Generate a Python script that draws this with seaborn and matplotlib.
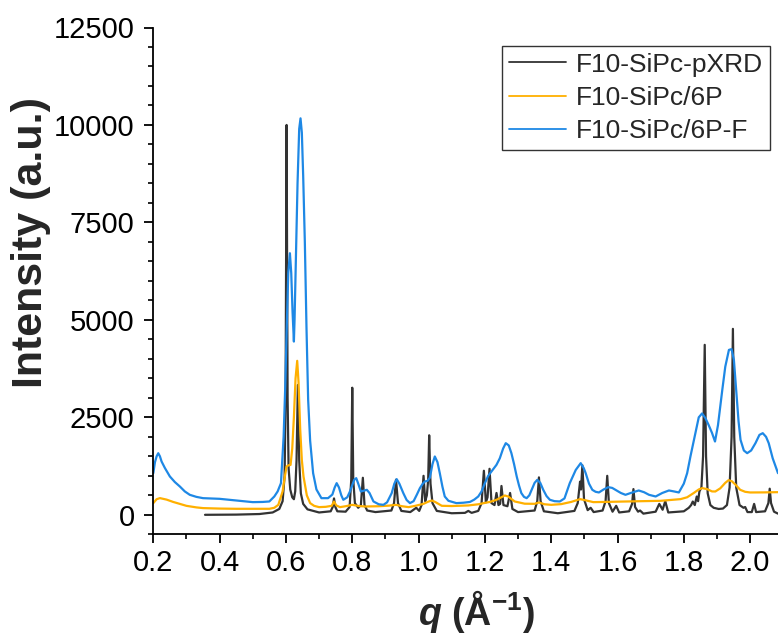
import numpy as np
import pandas as pd
import seaborn as sns
import matplotlib
matplotlib.use("Agg")
import matplotlib.pyplot as plt
from matplotlib.ticker import MultipleLocator, FormatStrFormatter

# ---------------- data ----------------
series_names = ["F10-SiPc-pXRD", "F10-SiPc/6P", "F10-SiPc/6P-F"]
series_colors = ["#333333", "#FFB000", "#1E88E5"]

pxrd_q = [0.356, 0.45, 0.52, 0.56, 0.58, 0.590, 0.596, 0.599, 0.602, 0.605, 0.608, 0.613, 0.619,
          0.624, 0.628, 0.632, 0.636, 0.640, 0.645, 0.652, 0.665, 0.70, 0.735, 0.741, 0.745, 0.749,
          0.755, 0.78, 0.792, 0.797, 0.800, 0.803, 0.808, 0.818, 0.826, 0.832, 0.837, 0.845, 0.87,
          0.918, 0.926, 0.932, 0.938, 0.948, 0.975, 0.993, 1.002, 1.009, 1.015, 1.020, 1.025, 1.029,
          1.032, 1.036, 1.042, 1.055, 1.10, 1.14, 1.150, 1.160, 1.180, 1.190, 1.197, 1.203, 1.208,
          1.214, 1.220, 1.229, 1.235, 1.241, 1.246, 1.250, 1.256, 1.268, 1.276, 1.283, 1.30, 1.35,
          1.358, 1.363, 1.368, 1.378, 1.42, 1.47, 1.480, 1.487, 1.490, 1.494, 1.499, 1.510, 1.519,
          1.528, 1.555, 1.564, 1.569, 1.574, 1.585, 1.596, 1.605, 1.635, 1.644, 1.648, 1.653, 1.662,
          1.668, 1.678, 1.715, 1.726, 1.736, 1.744, 1.753, 1.80, 1.815, 1.822, 1.827, 1.833, 1.839,
          1.843, 1.847, 1.853, 1.858, 1.863, 1.867, 1.872, 1.88, 1.89, 1.905, 1.918, 1.930, 1.938,
          1.944, 1.948, 1.952, 1.958, 1.968, 1.980, 1.985, 1.992, 2.005, 2.012, 2.018, 2.045, 2.055,
          2.059, 2.063, 2.072, 2.084]
pxrd_i = [0, 5, 20, 60, 150, 350, 1000, 3000, 10000, 3000, 1200, 650, 450,
          400, 600, 1400, 3330, 1400, 550, 280, 140, 60, 90, 200, 420, 200,
          90, 80, 200, 900, 3260, 900, 300, 180, 250, 950, 250, 110, 70,
          110, 300, 900, 300, 100, 70, 180, 100, 250, 1000, 350, 500, 900,
          2040, 800, 300, 100, 40, 50, 100, 50, 100, 300, 1130, 320, 450,
          1180, 300, 250, 560, 250, 280, 740, 250, 220, 560, 150, 70, 110,
          350, 960, 350, 90, 40, 100, 300, 850, 650, 1270, 400, 120, 180,
          70, 110, 350, 1000, 300, 80, 230, 60, 90, 280, 660, 200, 80,
          110, 30, 80, 280, 130, 350, 60, 90, 180, 250, 340, 250, 470,
          350, 600, 700, 1500, 4360, 1500, 550, 250, 180, 150, 160, 250, 700,
          2000, 4770, 2000, 700, 250, 180, 200, 70, 70, 280, 70, 90, 300,
          670, 300, 80, 30]

film_q = [0.20, 0.21, 0.22, 0.24, 0.26, 0.28, 0.30, 0.33, 0.35, 0.40, 0.45, 0.55, 0.565, 0.577,
          0.590, 0.597, 0.602, 0.608, 0.614, 0.619, 0.624, 0.629, 0.634, 0.638, 0.643, 0.648,
          0.653, 0.663, 0.673, 0.685, 0.70, 0.72, 0.738, 0.745, 0.752, 0.763, 0.78, 0.80, 0.82,
          0.84, 0.88, 0.91, 0.932, 0.95, 0.97, 0.99, 1.015, 1.03, 1.04, 1.05, 1.07, 1.10, 1.15,
          1.18, 1.197, 1.215, 1.235, 1.25, 1.26, 1.27, 1.29, 1.32, 1.35, 1.363, 1.38, 1.40, 1.43,
          1.46, 1.487, 1.50, 1.527, 1.56, 1.628, 1.73, 1.79, 1.81, 1.83, 1.845, 1.855, 1.87,
          1.885, 1.895, 1.91, 1.925, 1.935, 1.945, 1.955, 1.97, 1.985, 2.00, 2.04, 2.084]
film_i = [300, 400, 428, 390, 330, 280, 230, 190, 172, 160, 154, 154, 180, 256,
          600, 1000, 1240, 1270, 1280, 1700, 2500, 3500, 3950, 3400, 2200, 1400,
          983, 500, 300, 230, 197, 205, 230, 340, 240, 197, 220, 256, 225,
          213, 220, 235, 256, 220, 197, 230, 282, 340, 367, 330, 231, 225, 240,
          270, 300, 330, 385, 450, 496, 470, 342, 285, 282, 316, 270, 256, 274,
          330, 402, 380, 325, 330, 342, 359, 402, 450, 560, 650, 684, 660,
          600, 598, 680, 820, 889, 860, 780, 641, 590, 573, 575, 581]

filmf_q = [0.200, 0.205, 0.210, 0.215, 0.220, 0.225, 0.235, 0.25, 0.265, 0.28, 0.295, 0.31, 0.33,
           0.35, 0.40, 0.45, 0.50, 0.53, 0.55, 0.565, 0.575, 0.585, 0.593, 0.598, 0.602, 0.607,
           0.612, 0.616, 0.620, 0.624, 0.626, 0.630, 0.635, 0.640, 0.644, 0.648, 0.652, 0.657,
           0.662, 0.667, 0.673, 0.682, 0.692, 0.707, 0.727, 0.740, 0.747, 0.753, 0.760, 0.767,
           0.773, 0.785, 0.793, 0.800, 0.806, 0.812, 0.818, 0.826, 0.835, 0.844, 0.852, 0.864,
           0.880, 0.894, 0.905, 0.919, 0.927, 0.934, 0.942, 0.954, 0.964, 0.974, 0.985, 0.995,
           1.004, 1.012, 1.019, 1.027, 1.034, 1.042, 1.049, 1.057, 1.064, 1.072, 1.079, 1.090,
           1.114, 1.135, 1.155, 1.168, 1.180, 1.190, 1.200, 1.210, 1.220, 1.235, 1.245, 1.255,
           1.263, 1.272, 1.280, 1.288, 1.296, 1.303, 1.310, 1.318, 1.326, 1.334, 1.341, 1.350,
           1.358, 1.367, 1.376, 1.386, 1.396, 1.410, 1.426, 1.440, 1.456, 1.466, 1.474, 1.489,
           1.498, 1.504, 1.514, 1.524, 1.534, 1.544, 1.558, 1.572, 1.584, 1.594, 1.610, 1.624,
           1.640, 1.664, 1.680, 1.695, 1.715, 1.735, 1.755, 1.770, 1.785, 1.800, 1.810, 1.820,
           1.835, 1.845, 1.855, 1.865, 1.875, 1.885, 1.894, 1.903, 1.910, 1.916, 1.925, 1.936,
           1.944, 1.951, 1.958, 1.965, 1.971, 1.981, 1.991, 2.003, 2.016, 2.028, 2.038, 2.048,
           2.056, 2.068, 2.084]
filmf_i = [1068, 1350, 1500, 1580, 1500, 1367, 1200, 983, 840, 727, 600, 513, 460,
           427, 410, 367, 325, 330, 342, 470, 600, 812, 2000, 3300, 4670, 6200,
           6710, 6200, 5200, 4444, 5000, 6500, 8500, 9900, 10170, 9800, 8700, 7000,
           4800, 2950, 1900, 1068, 650, 427, 427, 520, 700, 812, 700, 500,
           385, 450, 598, 760, 900, 940, 800, 598, 620, 641, 560, 342,
           270, 256, 320, 556, 800, 915, 800, 556, 380, 300, 350, 520,
           684, 790, 855, 870, 950, 1300, 1496, 1350, 1068, 720, 470, 360,
           300, 310, 330, 390, 470, 600, 812, 1000, 1111, 1282, 1450, 1700,
           1838, 1780, 1581, 1300, 983, 750, 556, 460, 427, 500, 641, 820,
           897, 820, 641, 480, 385, 350, 342, 420, 812, 1000, 1150, 1325,
           1200, 1068, 800, 641, 590, 573, 650, 709, 690, 641, 560, 513,
           560, 624, 580, 513, 470, 560, 624, 600, 573, 800, 1068, 1500,
           2094, 2500, 2600, 2480, 2300, 2100, 1880, 2300, 2800, 3205, 3800, 4230,
           4250, 3974, 3200, 2400, 1923, 1650, 1581, 1650, 1838, 2050, 2094, 2000,
           1838, 1450, 1068]

x_ticks = [0.2, 0.4, 0.6, 0.8, 1.0, 1.2, 1.4, 1.6, 1.8, 2.0]
y_ticks = [0, 2500, 5000, 7500, 10000, 12500]

# ---------------- style ----------------
sns.set_theme(style="ticks")
plt.rcParams["font.family"] = ["Liberation Sans", "DejaVu Sans"]
plt.rcParams["mathtext.fontset"] = "custom"
plt.rcParams["mathtext.rm"] = "Liberation Sans:bold"
plt.rcParams["mathtext.it"] = "Liberation Sans:italic:bold"
plt.rcParams["mathtext.bf"] = "Liberation Sans:bold"

fig = plt.figure(figsize=(7.78, 6.39), dpi=100)
ax = fig.add_axes([153.3 / 778, 1 - 534.3 / 639, (778 - 153.3) / 778, (534.3 - 27.5) / 639])

frames = []
for name, q, i in zip(series_names, [pxrd_q, film_q, filmf_q], [pxrd_i, film_i, filmf_i]):
    frames.append(pd.DataFrame({"q": q, "I": i, "sample": name}))
df = pd.concat(frames, ignore_index=True)

sns.lineplot(data=df, x="q", y="I", hue="sample", hue_order=series_names,
             palette=series_colors, estimator=None, sort=False, linewidth=1.6, ax=ax)

ax.set_xlim(0.2, 2.084)
ax.set_ylim(-500, 12500)
ax.set_xticks(x_ticks)
ax.set_yticks(y_ticks)
ax.xaxis.set_major_formatter(FormatStrFormatter("%.1f"))
ax.xaxis.set_minor_locator(MultipleLocator(0.1))
ax.yaxis.set_minor_locator(MultipleLocator(500))

for side in ["top", "right"]:
    ax.spines[side].set_visible(False)
for side in ["left", "bottom"]:
    ax.spines[side].set_linewidth(1.3)
    ax.spines[side].set_color("black")

ax.tick_params(axis="both", which="major", direction="out", length=6.5, width=1.3,
               labelsize=21, colors="black")
ax.tick_params(axis="x", which="major", pad=4)
ax.tick_params(axis="y", which="major", pad=7)
ax.tick_params(axis="both", which="minor", direction="out", length=3.5, width=1.2, colors="black")

ax.set_ylabel("Intensity (a.u.)", fontsize=31, fontweight="bold")
ax.yaxis.set_label_coords(-0.163, 0.575)
ax.set_xlabel(r"$q$ (Å$^{-1}$)", fontsize=27, fontweight="bold", labelpad=8)
ax.xaxis.set_label_coords(0.518, -0.105)

leg = ax.legend(loc="upper right", bbox_to_anchor=(0.987, 0.9635), fontsize=19,
                frameon=True, fancybox=False, edgecolor="#333333", framealpha=1,
                handlelength=2.15, handletextpad=0.4, labelspacing=0.35,
                borderpad=0.25, borderaxespad=0.0)
leg.get_frame().set_linewidth(1.0)
for h in leg.get_lines():
    h.set_linewidth(1.3)

fig.savefig("out.png", dpi=100)
